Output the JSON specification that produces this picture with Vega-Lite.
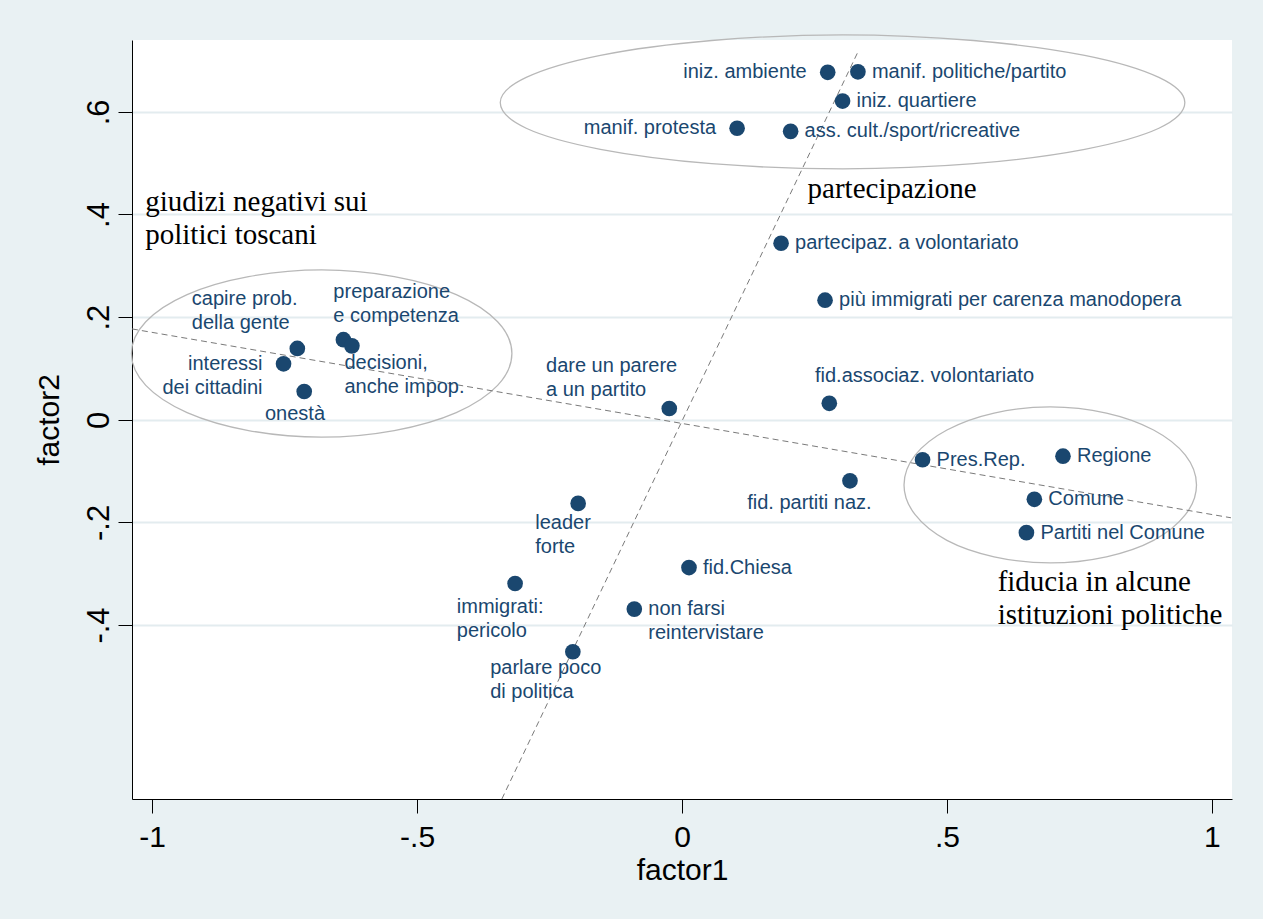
{
  "$schema": "https://vega.github.io/schema/vega-lite/v6.json",
  "width": 1100,
  "height": 759,
  "autosize": {"type": "none"},
  "padding": {"left": 132, "top": 40, "right": 31, "bottom": 120},
  "background": "#e9f1f3",
  "view": {"fill": "white", "stroke": null},
  "config": {"font": "Liberation Sans"},
  "datasets": {
    "points": [
      {"item": "iniz. ambiente", "factor1": 0.275, "factor2": 0.677, "side": "L"},
      {"item": "manif. politiche/partito", "factor1": 0.332, "factor2": 0.678, "side": "R"},
      {"item": "iniz. quartiere", "factor1": 0.303, "factor2": 0.621, "side": "R"},
      {"item": "manif. protesta", "factor1": 0.104, "factor2": 0.568, "side": "L"},
      {"item": "ass. cult./sport/ricreative", "factor1": 0.205, "factor2": 0.562, "side": "R"},
      {"item": "partecipaz. a volontariato", "factor1": 0.187, "factor2": 0.344, "side": "R"},
      {"item": "più immigrati per carenza manodopera", "factor1": 0.270, "factor2": 0.233, "side": "R"},
      {"item": "fid.associaz. volontariato", "factor1": 0.278, "factor2": 0.032, "side": "N"},
      {"item": "dare un parere a un partito", "factor1": -0.024, "factor2": 0.022, "side": "N"},
      {"item": "Pres.Rep.", "factor1": 0.454, "factor2": -0.078, "side": "R"},
      {"item": "Regione", "factor1": 0.719, "factor2": -0.071, "side": "R"},
      {"item": "Comune", "factor1": 0.665, "factor2": -0.155, "side": "R"},
      {"item": "Partiti nel Comune", "factor1": 0.650, "factor2": -0.220, "side": "R"},
      {"item": "fid. partiti naz.", "factor1": 0.317, "factor2": -0.119, "side": "N"},
      {"item": "leader forte", "factor1": -0.196, "factor2": -0.163, "side": "N"},
      {"item": "fid.Chiesa", "factor1": 0.0132, "factor2": -0.288, "side": "R"},
      {"item": "immigrati: pericolo", "factor1": -0.315, "factor2": -0.319, "side": "N"},
      {"item": "non farsi|reintervistare", "factor1": -0.090, "factor2": -0.369, "side": "R"},
      {"item": "parlare poco di politica", "factor1": -0.206, "factor2": -0.452, "side": "N"},
      {"item": "capire prob. della gente", "factor1": -0.726, "factor2": 0.139, "side": "N"},
      {"item": "interessi|dei cittadini", "factor1": -0.752, "factor2": 0.109, "side": "L"},
      {"item": "onestà", "factor1": -0.713, "factor2": 0.055, "side": "N"},
      {"item": "preparazione e competenza", "factor1": -0.639, "factor2": 0.156, "side": "N"},
      {"item": "decisioni, anche impop.", "factor1": -0.623, "factor2": 0.144, "side": "N"}
    ],
    "notes": [
      {"text": "fid.associaz. volontariato", "factor1": 0.251, "factor2": 0.085},
      {"text": "dare un parere|a un partito", "factor1": -0.2566, "factor2": 0.105},
      {"text": "fid. partiti naz.", "factor1": 0.123, "factor2": -0.163},
      {"text": "capire prob.|della gente", "factor1": -0.925, "factor2": 0.2355},
      {"text": "onestà", "factor1": -0.787, "factor2": 0.011},
      {"text": "preparazione|e competenza", "factor1": -0.658, "factor2": 0.248},
      {"text": "decisioni,|anche impop.", "factor1": -0.637, "factor2": 0.110},
      {"text": "leader|forte", "factor1": -0.277, "factor2": -0.2006},
      {"text": "immigrati:|pericolo", "factor1": -0.425, "factor2": -0.3655},
      {"text": "parlare poco|di politica", "factor1": -0.362, "factor2": -0.4844}
    ],
    "groups": [
      {"text": "giudizi negativi sui|politici toscani", "factor1": -1.013, "factor2": 0.425},
      {"text": "partecipazione", "factor1": 0.237, "factor2": 0.449},
      {"text": "fiducia in alcune|istituzioni politiche", "factor1": 0.5957, "factor2": -0.3156}
    ],
    "axes": [
      {"axis": "a", "k": 0, "factor1": -0.340, "factor2": -0.739},
      {"axis": "a", "k": 1, "factor1": 0.334, "factor2": 0.721},
      {"axis": "b", "k": 0, "factor1": -1.038, "factor2": 0.177},
      {"axis": "b", "k": 1, "factor1": 1.036, "factor2": -0.191}
    ],
    "ellipses": [
      {"e": "top", "k": 0, "factor1": 0.949, "factor2": 0.618},
      {"e": "top", "k": 1, "factor1": 0.900, "factor2": 0.667},
      {"e": "top", "k": 2, "factor1": 0.760, "factor2": 0.710},
      {"e": "top", "k": 3, "factor1": 0.550, "factor2": 0.739},
      {"e": "top", "k": 4, "factor1": 0.303, "factor2": 0.750},
      {"e": "top", "k": 5, "factor1": 0.056, "factor2": 0.739},
      {"e": "top", "k": 6, "factor1": -0.154, "factor2": 0.710},
      {"e": "top", "k": 7, "factor1": -0.294, "factor2": 0.667},
      {"e": "top", "k": 8, "factor1": -0.343, "factor2": 0.618},
      {"e": "top", "k": 9, "factor1": -0.294, "factor2": 0.568},
      {"e": "top", "k": 10, "factor1": -0.154, "factor2": 0.527},
      {"e": "top", "k": 11, "factor1": 0.056, "factor2": 0.499},
      {"e": "top", "k": 12, "factor1": 0.303, "factor2": 0.489},
      {"e": "top", "k": 13, "factor1": 0.550, "factor2": 0.499},
      {"e": "top", "k": 14, "factor1": 0.760, "factor2": 0.527},
      {"e": "top", "k": 15, "factor1": 0.900, "factor2": 0.568},
      {"e": "left", "k": 0, "factor1": -0.321, "factor2": 0.129},
      {"e": "left", "k": 1, "factor1": -0.348, "factor2": 0.191},
      {"e": "left", "k": 2, "factor1": -0.426, "factor2": 0.244},
      {"e": "left", "k": 3, "factor1": -0.543, "factor2": 0.279},
      {"e": "left", "k": 4, "factor1": -0.680, "factor2": 0.292},
      {"e": "left", "k": 5, "factor1": -0.818, "factor2": 0.279},
      {"e": "left", "k": 6, "factor1": -0.934, "factor2": 0.244},
      {"e": "left", "k": 7, "factor1": -1.012, "factor2": 0.191},
      {"e": "left", "k": 8, "factor1": -1.039, "factor2": 0.129},
      {"e": "left", "k": 9, "factor1": -1.012, "factor2": 0.067},
      {"e": "left", "k": 10, "factor1": -0.934, "factor2": 0.014},
      {"e": "left", "k": 11, "factor1": -0.818, "factor2": -0.021},
      {"e": "left", "k": 12, "factor1": -0.680, "factor2": -0.034},
      {"e": "left", "k": 13, "factor1": -0.543, "factor2": -0.021},
      {"e": "left", "k": 14, "factor1": -0.426, "factor2": 0.014},
      {"e": "left", "k": 15, "factor1": -0.348, "factor2": 0.067},
      {"e": "right", "k": 0, "factor1": 0.971, "factor2": -0.127},
      {"e": "right", "k": 1, "factor1": 0.950, "factor2": -0.069},
      {"e": "right", "k": 2, "factor1": 0.890, "factor2": -0.020},
      {"e": "right", "k": 3, "factor1": 0.801, "factor2": 0.013},
      {"e": "right", "k": 4, "factor1": 0.695, "factor2": 0.025},
      {"e": "right", "k": 5, "factor1": 0.589, "factor2": 0.013},
      {"e": "right", "k": 6, "factor1": 0.500, "factor2": -0.020},
      {"e": "right", "k": 7, "factor1": 0.440, "factor2": -0.069},
      {"e": "right", "k": 8, "factor1": 0.419, "factor2": -0.127},
      {"e": "right", "k": 9, "factor1": 0.440, "factor2": -0.185},
      {"e": "right", "k": 10, "factor1": 0.500, "factor2": -0.235},
      {"e": "right", "k": 11, "factor1": 0.589, "factor2": -0.267},
      {"e": "right", "k": 12, "factor1": 0.695, "factor2": -0.279},
      {"e": "right", "k": 13, "factor1": 0.801, "factor2": -0.267},
      {"e": "right", "k": 14, "factor1": 0.890, "factor2": -0.235},
      {"e": "right", "k": 15, "factor1": 0.950, "factor2": -0.185}
    ]
  },
  "encoding": {
    "x": {
      "field": "factor1",
      "type": "quantitative",
      "scale": {"domain": [-1.038, 1.038], "nice": false, "zero": false},
      "axis": {
        "title": "factor1",
        "values": [-1, -0.5, 0, 0.5, 1],
        "labelExpr": "replace(toString(datum.value), '0.', '.')",
        "grid": false,
        "domainColor": "#000000",
        "domainWidth": 1,
        "tickColor": "#000000",
        "tickSize": 14,
        "tickWidth": 1,
        "labelFont": "Liberation Sans",
        "labelFontSize": 30,
        "labelColor": "#000000",
        "labelPadding": 9,
        "labelFlush": false,
        "labelOverlap": false,
        "labelBound": false,
        "titleFont": "Liberation Sans",
        "titleFontSize": 30,
        "titleFontWeight": "normal",
        "titleColor": "#000000",
        "titlePadding": 3
      }
    },
    "y": {
      "field": "factor2",
      "type": "quantitative",
      "scale": {"domain": [-0.739, 0.740], "nice": false, "zero": false},
      "axis": {
        "title": "factor2",
        "values": [-0.4, -0.2, 0, 0.2, 0.4, 0.6],
        "labelExpr": "replace(toString(datum.value), '0.', '.')",
        "grid": true,
        "gridColor": "#e3ecef",
        "gridWidth": 2,
        "domainColor": "#000000",
        "domainWidth": 1,
        "tickColor": "#000000",
        "tickSize": 14,
        "tickWidth": 1,
        "labelFont": "Liberation Sans",
        "labelFontSize": 31,
        "labelColor": "#000000",
        "labelAngle": -90,
        "labelAlign": "center",
        "labelBaseline": "bottom",
        "labelPadding": 3,
        "labelFlush": false,
        "labelOverlap": false,
        "labelBound": false,
        "titleFont": "Liberation Sans",
        "titleFontSize": 30,
        "titleFontWeight": "normal",
        "titleColor": "#000000",
        "titlePadding": 19
      }
    }
  },
  "layer": [
    {
      "data": {"name": "ellipses"},
      "mark": {"type": "line", "interpolate": "cardinal-closed", "stroke": "#b8b8b8", "strokeWidth": 1.3},
      "encoding": {"detail": {"field": "e"}, "order": {"field": "k", "type": "quantitative"}}
    },
    {
      "data": {"name": "axes"},
      "mark": {"type": "line", "stroke": "#7a7a7a", "strokeWidth": 1, "strokeDash": [6, 4]},
      "encoding": {"detail": {"field": "axis"}, "order": {"field": "k", "type": "quantitative"}}
    },
    {
      "data": {"name": "points"},
      "mark": {"type": "point", "filled": true, "size": 245, "color": "#1a476f", "opacity": 1}
    },
    {
      "data": {"name": "points"},
      "transform": [{"filter": "datum.side === 'R'"}],
      "mark": {"type": "text", "align": "left", "baseline": "line-top", "dx": 14, "dy": -12, "lineBreak": "|", "lineHeight": 24, "font": "Liberation Sans", "fontSize": 20, "color": "#1a476f"},
      "encoding": {"text": {"field": "item"}}
    },
    {
      "data": {"name": "points"},
      "transform": [{"filter": "datum.side === 'L'"}],
      "mark": {"type": "text", "align": "right", "baseline": "line-top", "dx": -21, "dy": -12, "lineBreak": "|", "lineHeight": 24, "font": "Liberation Sans", "fontSize": 20, "color": "#1a476f"},
      "encoding": {"text": {"field": "item"}}
    },
    {
      "data": {"name": "notes"},
      "mark": {"type": "text", "align": "left", "baseline": "line-top", "dy": -12, "lineBreak": "|", "lineHeight": 24, "font": "Liberation Sans", "fontSize": 20, "color": "#1a476f"},
      "encoding": {"text": {"field": "text"}}
    },
    {
      "data": {"name": "groups"},
      "mark": {"type": "text", "align": "left", "baseline": "line-top", "dy": -16, "lineBreak": "|", "lineHeight": 33, "font": "Liberation Serif", "fontSize": 29, "color": "#000000"},
      "encoding": {"text": {"field": "text"}}
    }
  ]
}
